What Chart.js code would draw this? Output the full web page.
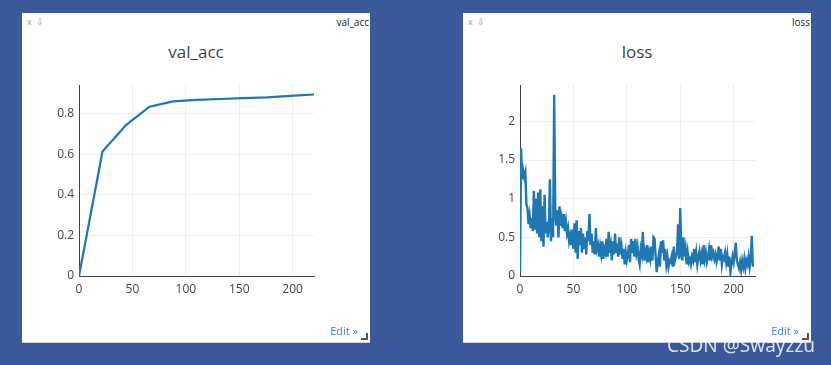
<!DOCTYPE html>
<html>
<head>
<meta charset="utf-8">
<script src="https://cdn.jsdelivr.net/npm/chart.js@4/dist/chart.umd.min.js"></script>
<style>
  html, body { margin: 0; padding: 0; }
  body { width: 831px; height: 365px; background: #3b5998; position: relative; overflow: hidden; font-family: "Open Sans", sans-serif; }
  .panel { position: absolute; top: 13px; width: 348px; height: 329px; background: #fff; border-bottom: 1px solid #c8ccd4; }
  .panel canvas { position: absolute; left: 0; top: 0; }
  .tools { position: absolute; left: 5px; top: 2px; font-size: 9px; color: #999; }
  .name { position: absolute; right: 1px; top: 2px; font-size: 10px; color: #222; }
  .title { position: absolute; left: 0; width: 348px; top: 27px; text-align: center; font-size: 17px; color: #444; }
  .edit { position: absolute; right: 12px; bottom: 4px; font-size: 11px; color: #4d7ad0; }
  .corner { position: absolute; right: 2px; bottom: 2px; width: 5px; height: 5px; border-right: 2px solid #555; border-bottom: 2px solid #555; }
  .mark { position: absolute; left: 667px; top: 332px; font-size: 19px; color: rgba(255,255,255,0.8); font-family: "Noto Sans", sans-serif; }
</style>
</head>
<body>
<div class="panel" style="left:22px">
  <div class="tools">x &nbsp;⇩</div>
  <div class="name">val_acc</div>
  <div class="title">val_acc</div>
  <canvas id="acc" width="348" height="329"></canvas>
  <div class="edit">Edit »</div>
  <div class="corner"></div>
</div>
<div class="panel" style="left:463px">
  <div class="tools">x &nbsp;⇩</div>
  <div class="name">loss</div>
  <div class="title">loss</div>
  <canvas id="loss" width="348" height="329"></canvas>
  <div class="edit">Edit »</div>
  <div class="corner"></div>
</div>
<div class="mark">CSDN @Swayzzu</div>
<script>
// validation accuracy, logged every 22 steps
const accSteps = [0, 22, 44, 66, 88, 110, 132, 154, 176, 198, 220];
const accValues = [0, 0.615, 0.745, 0.836, 0.862, 0.870, 0.874, 0.878, 0.882, 0.889, 0.896];

// training loss, one value per step (0..218)
const lossValues = [
  0.05, 1.65, 1.25, 1.36, 1.28, 1.34, 0.92, 0.88, 0.67, 0.78,
  0.62, 0.75, 0.58, 1.10, 0.60, 1.00, 0.55, 1.08, 0.50, 1.12,
  0.45, 0.90, 0.38, 1.05, 0.55, 0.70, 0.50, 0.62, 1.25, 0.45,
  0.75, 0.50, 2.34, 0.80, 0.65, 0.85, 0.50, 0.90, 0.65, 0.75,
  0.62, 0.80, 0.58, 0.70, 0.55, 0.62, 0.45, 0.52, 0.40, 0.60,
  0.35, 0.68, 0.30, 0.72, 0.22, 0.58, 0.40, 0.62, 0.30, 0.55,
  0.35, 0.50, 0.28, 0.58, 0.45, 0.80, 0.40, 0.55, 0.30, 0.45,
  0.28, 0.62, 0.35, 0.40, 0.25, 0.38, 0.28, 0.45, 0.22, 0.35,
  0.30, 0.48, 0.25, 0.57, 0.30, 0.40, 0.20, 0.45, 0.28, 0.55,
  0.30, 0.42, 0.25, 0.50, 0.28, 0.38, 0.22, 0.35, 0.15, 0.30,
  0.20, 0.28, 0.40, 0.18, 0.48, 0.30, 0.45, 0.25, 0.48, 0.30,
  0.38, 0.22, 0.15, 0.35, 0.28, 0.57, 0.20, 0.32, 0.25, 0.40,
  0.18, 0.30, 0.22, 0.38, 0.20, 0.50, 0.48, 0.25, 0.05, 0.20,
  0.28, 0.12, 0.45, 0.30, 0.46, 0.20, 0.35, 0.15, 0.25, 0.12,
  0.20, 0.18, 0.25, 0.12, 0.38, 0.20, 0.25, 0.30, 0.67, 0.22,
  0.88, 0.30, 0.20, 0.50, 0.25, 0.35, 0.15, 0.30, 0.18, 0.22,
  0.15, 0.25, 0.20, 0.35, 0.18, 0.30, 0.15, 0.25, 0.32, 0.20,
  0.28, 0.15, 0.40, 0.22, 0.30, 0.18, 0.25, 0.35, 0.20, 0.40,
  0.25, 0.30, 0.22, 0.28, 0.18, 0.25, 0.38, 0.20, 0.35, 0.15,
  0.25, 0.22, 0.30, 0.18, 0.28, 0.12, 0.25, 0.05, 0.15, 0.25,
  0.18, 0.30, 0.43, 0.20, 0.15, 0.10, 0.18, 0.08, 0.20, 0.12,
  0.22, 0.10, 0.20, 0.15, 0.25, 0.12, 0.22, 0.52, 0.12
];

const xMax = 220;
const xStep = 50;

function keepMultiples(step) {
  return axis => {
    axis.ticks = axis.ticks.filter(t => Math.abs(t.value / step - Math.round(t.value / step)) < 1e-6);
  };
}

function makeChart(id, points, yMax, yStep, lineWidth) {
  const ctx = document.getElementById(id).getContext('2d');
  return new Chart(ctx, {
    type: 'line',
    data: {
      datasets: [{
        data: points,
        borderColor: '#1f77b4',
        borderWidth: lineWidth,
        pointRadius: 0,
        tension: 0,
        fill: false,
      }],
    },
    options: {
      responsive: false,
      animation: false,
      layout: { padding: { left: 0, right: 56, top: 72, bottom: 0 } },
      plugins: { legend: { display: false }, tooltip: { enabled: false } },
      scales: {
        x: {
          type: 'linear',
          min: 0,
          max: xMax,
          afterBuildTicks: keepMultiples(xStep),
          afterFit: s => { s.height = 66; },
          grid: { color: '#eeeeee', drawTicks: false },
          border: { color: '#444', width: 1 },
          ticks: {
            stepSize: xStep,
            includeBounds: false,
            autoSkip: false,
            padding: 6,
            color: '#444',
            font: { family: 'Open Sans', size: 12 },
            maxRotation: 0,
          },
        },
        y: {
          min: 0,
          max: yMax,
          afterBuildTicks: keepMultiples(yStep),
          afterFit: s => { s.width = 57; },
          grid: { color: '#eeeeee', drawTicks: false },
          border: { color: '#444', width: 1 },
          ticks: {
            stepSize: yStep,
            includeBounds: false,
            autoSkip: false,
            padding: 5,
            color: '#444',
            font: { family: 'Open Sans', size: 12 },
            callback: v => String(+v.toFixed(2)),
          },
        },
      },
    },
  });
}

makeChart('acc', accSteps.map((s, i) => ({ x: s, y: accValues[i] })), 0.943, 0.2, 2.2);
makeChart('loss', lossValues.map((v, i) => ({ x: i, y: v })), 2.47, 0.5, 2.4);
</script>
</body>
</html>
